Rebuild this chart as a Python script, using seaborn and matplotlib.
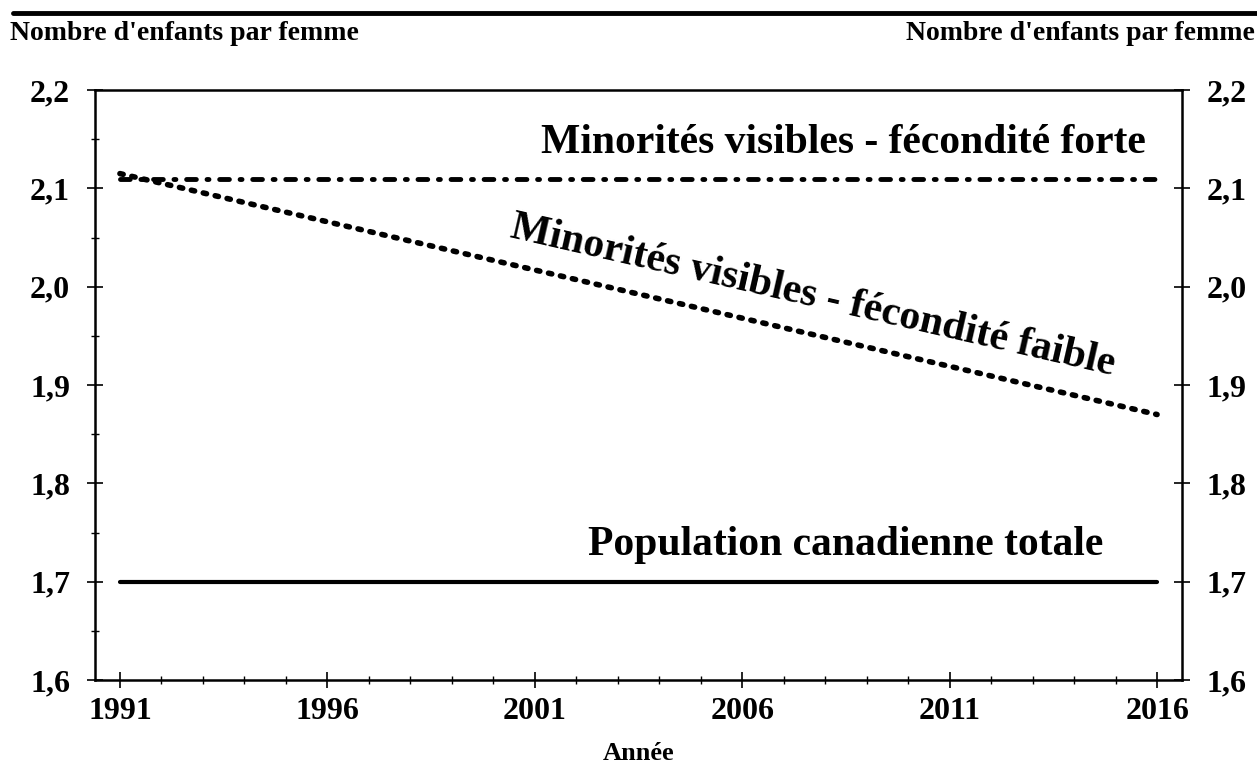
import numpy as np
import pandas as pd
import matplotlib.pyplot as plt
import seaborn as sns
from matplotlib.lines import Line2D
from matplotlib.ticker import MultipleLocator, FixedLocator

# Données
annees = [1991, 1996, 2001, 2006, 2011, 2016]
total = [1.70, 1.70, 1.70, 1.70, 1.70, 1.70]
forte = [2.11, 2.11, 2.11, 2.11, 2.11, 2.11]
faible = [2.115, 2.066, 2.017, 1.968, 1.919, 1.870]

df = pd.DataFrame({"ANNEE": annees, "TOTAL": total, "FORTE": forte, "FAIBLE": faible})

sns.set_style("ticks")
plt.rcParams["font.family"] = ["Liberation Serif", "DejaVu Serif"]
plt.rcParams["font.weight"] = "bold"
plt.rcParams["text.color"] = "black"
plt.rcParams["axes.labelcolor"] = "black"
plt.rcParams["xtick.color"] = "black"
plt.rcParams["ytick.color"] = "black"
plt.rcParams["axes.edgecolor"] = "black"

fig = plt.figure(figsize=(12.57, 7.82), dpi=100)
ax = fig.add_axes([0.0756, 0.1304, 0.8647, 0.7545])

# Séries
sns.lineplot(data=df, x="ANNEE", y="TOTAL", ax=ax, color="black", linewidth=3)
sns.lineplot(data=df, x="ANNEE", y="FORTE", ax=ax, color="black", linewidth=3.5,
             linestyle=(0, (2.0, 2.2, 0.4, 2.2)), dash_capstyle="round")
sns.lineplot(data=df, x="ANNEE", y="FAIBLE", ax=ax, color="black", linewidth=4,
             linestyle=(0, (0.6, 1.6)), dash_capstyle="round")

# Axes
ax.set_xlim(1990.4, 2016.6)
ax.set_ylim(1.6, 2.2)
ax.xaxis.set_major_locator(FixedLocator(annees))
ax.xaxis.set_minor_locator(MultipleLocator(1))
ax.yaxis.set_major_locator(MultipleLocator(0.1))
ax.yaxis.set_minor_locator(MultipleLocator(0.05))
ax.set_yticklabels([f"{v:.1f}".replace(".", ",") for v in ax.get_yticks()])
ax.tick_params(axis="both", which="major", direction="inout", length=12, width=1.2,
               labelsize=23, left=True, right=True, labelright=True, pad=12)
ax.tick_params(axis="both", which="minor", direction="inout", length=6, width=1)
ax.tick_params(axis="x", which="major", pad=6)
for s in ax.spines.values():
    s.set_linewidth(1.8)

ax.set_xlabel("Année", fontsize=19, fontweight="bold", labelpad=12)
ax.set_ylabel("")

# Étiquettes des séries
ax.text(2008.45, 2.146, "Minorités visibles - fécondité forte", fontsize=30,
        fontweight="bold", ha="center", va="center")
ax.text(2008.5, 1.737, "Population canadienne totale", fontsize=30,
        fontweight="bold", ha="center", va="center")
ax.text(2007.7, 1.99, "Minorités visibles - fécondité faible", fontsize=30,
        fontweight="bold", ha="center", va="center", rotation=-12.9,
        rotation_mode="anchor")

# Titres des axes en haut
fig.text(0.008, 0.957, "Nombre d'enfants par femme", fontsize=20, fontweight="bold",
         ha="left", va="center")
fig.text(0.998, 0.957, "Nombre d'enfants par femme", fontsize=20, fontweight="bold",
         ha="right", va="center")

# Filet supérieur
fig.add_artist(Line2D([0.01, 1.0], [0.983, 0.983], color="black", linewidth=3.5,
                      transform=fig.transFigure))

fig.savefig("out.png", dpi=100)
